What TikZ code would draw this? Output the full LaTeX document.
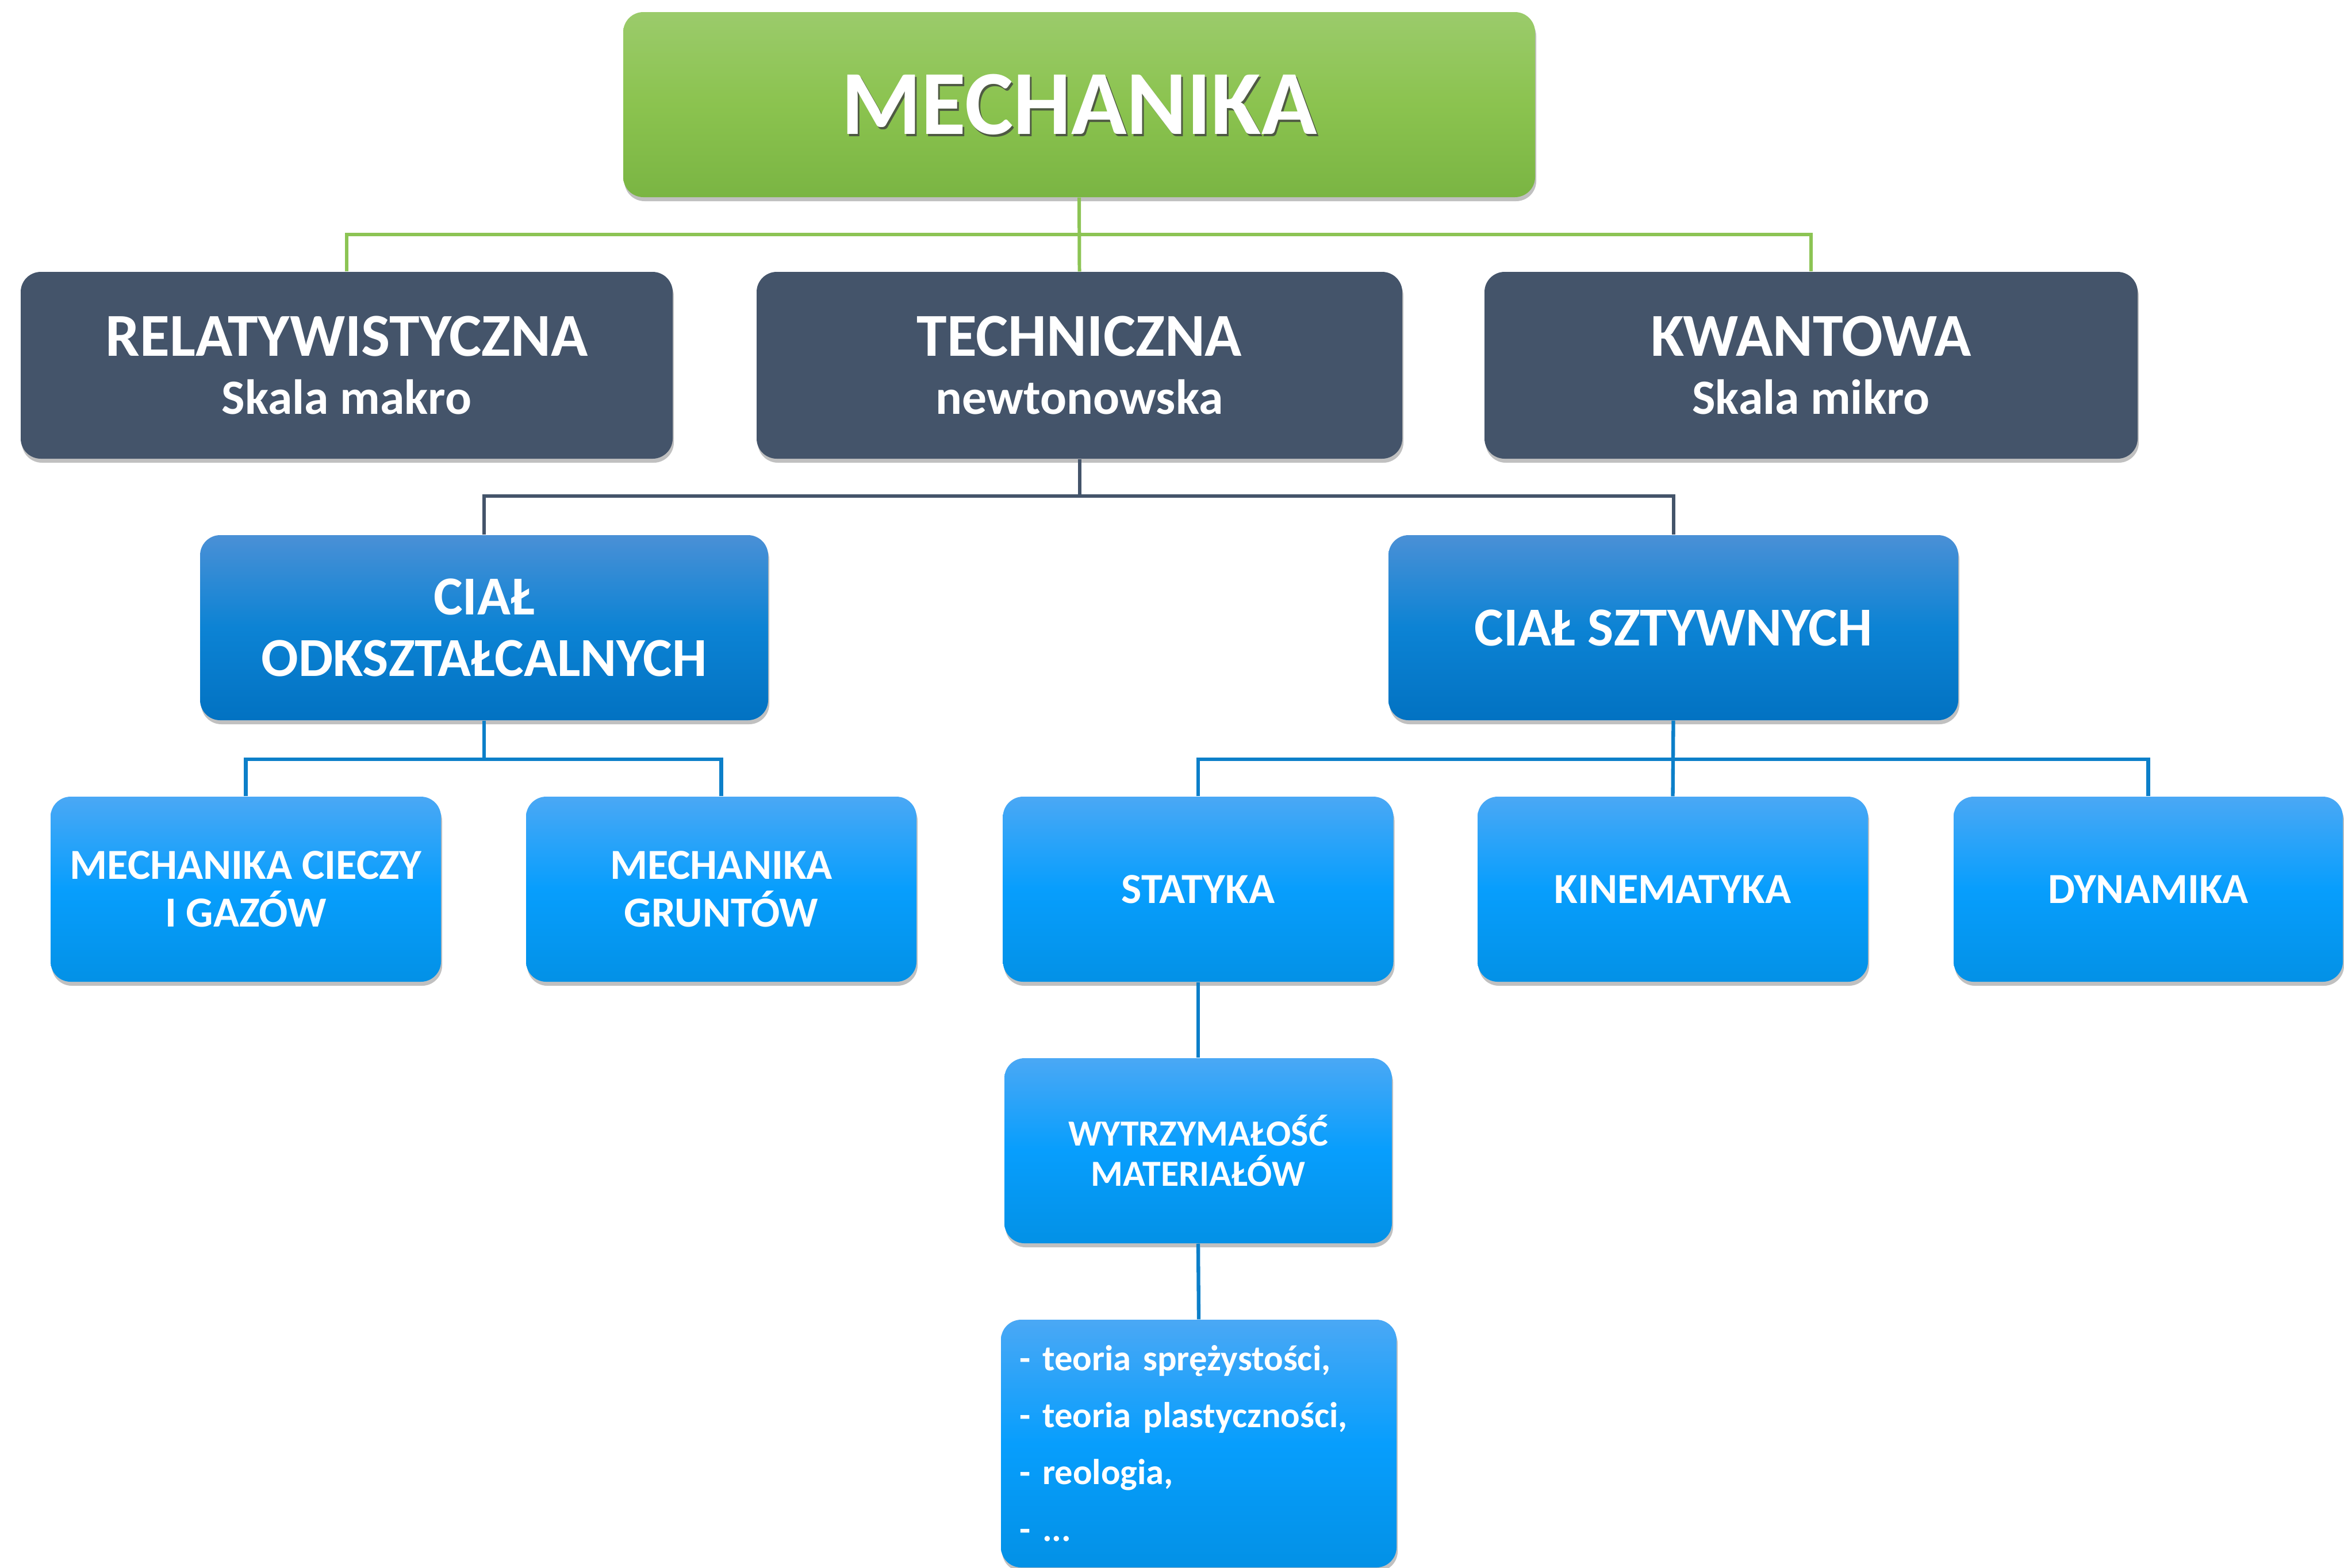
\documentclass[tikz,border=0pt]{standalone}
\usepackage{fontspec}
\setmainfont{Carlito}
\usetikzlibrary{shadows}
\definecolor{gtop}{HTML}{9BCB6B}
\definecolor{gmid}{HTML}{8BC34F}
\definecolor{gbot}{HTML}{7AB543}
\definecolor{gline}{HTML}{8CC454}
\definecolor{slate}{HTML}{44546A}
\definecolor{b2top}{HTML}{4A90D6}
\definecolor{b2mid}{HTML}{0C83D4}
\definecolor{b2bot}{HTML}{0272C2}
\definecolor{b3top}{HTML}{4AA8F5}
\definecolor{b3mid}{HTML}{079EFD}
\definecolor{b3bot}{HTML}{0391E6}
\definecolor{bline}{HTML}{0C7FC9}
\tikzset{
  box/.style={rounded corners=0.35cm, inner sep=0pt, align=center, text=white,
    drop shadow={shadow xshift=0.02cm, shadow yshift=-0.07cm, opacity=0.35, fill=black!70}},
  greenbox/.style={box, top color=gtop, bottom color=gbot, middle color=gmid,
    minimum width=15.86cm, minimum height=3.22cm},
  darkbox/.style={box, fill=slate, minimum width=11.3cm, minimum height=3.25cm,
    font=\fontsize{24.4}{28.5}\selectfont\bfseries},
  bluetwo/.style={box, top color=b2top, bottom color=b2bot, middle color=b2mid,
    minimum width=9.9cm, minimum height=3.22cm, font=\fontsize{27.2}{30.5}\selectfont\bfseries},
  bluethree/.style={box, top color=b3top, bottom color=b3bot, middle color=b3mid,
    minimum width=6.79cm, minimum height=3.22cm, font=\fontsize{21.2}{23.7}\selectfont\bfseries},
  gconn/.style={draw=gline, line width=1.7pt},
  dconn/.style={draw=slate, line width=1.7pt},
  bconn/.style={draw=bline, line width=1.8pt},
}
\newcommand{\bigline}[1]{{\fontsize{30.2}{28.5}\selectfont #1}}
\begin{document}
\begin{tikzpicture}
\useasboundingbox (0,-27.27) rectangle (40.77,0);
\fill[white] (0,-27.27) rectangle (40.77,0);
% bar coordinates
\coordinate (gbar) at (18.775,-4.08);
\coordinate (dbar) at (18.775,-8.63);
\coordinate (bbarl) at (8.42,-13.21);
\coordinate (bbarr) at (29.105,-13.21);
% nodes
\node[greenbox] (mech) at (18.77,-1.82) {};
\node[text=black!75, opacity=0.8, font=\fontsize{45.3}{52}\selectfont\bfseries] (mechsh) at (18.80,-1.86) {MECHANIKA};
\node[text=white, font=\fontsize{45.3}{52}\selectfont\bfseries] (mecht) at (18.77,-1.82) {MECHANIKA};
\node[darkbox, minimum width=11.34cm] (rel) at (6.03,-6.355)
  {\bigline{RELATYWISTYCZNA}\\Skala makro};
\node[darkbox, minimum width=11.23cm] (tech) at (18.775,-6.355)
  {\bigline{TECHNICZNA}\\newtonowska};
\node[darkbox, minimum width=11.36cm] (kwant) at (31.50,-6.355)
  {\bigline{KWANTOWA}\\Skala mikro};
\node[bluetwo, minimum width=9.88cm] (odk) at (8.42,-10.92) {CIAŁ\\ODKSZTAŁCALNYCH};
\node[bluetwo, minimum width=9.91cm] (szt) at (29.105,-10.92) {CIAŁ SZTYWNYCH};
\node[bluethree] (ciecz) at (4.275,-15.47) {MECHANIKA CIECZY\\I GAZÓW};
\node[bluethree] (grunt) at (12.545,-15.47) {MECHANIKA\\GRUNTÓW};
\node[bluethree] (stat) at (20.84,-15.47) {STATYKA};
\node[bluethree] (kin) at (29.095,-15.47) {KINEMATYKA};
\node[bluethree, minimum width=6.77cm] (dyn) at (37.365,-15.47) {DYNAMIKA};
\node[bluethree, minimum width=6.74cm, font=\fontsize{18.2}{20}\selectfont\bfseries] (wytrz) at (20.84,-20.02) {WYTRZYMAŁOŚĆ\\MATERIAŁÓW};
\node[bluethree, minimum width=6.88cm, minimum height=4.31cm, text width=6.24cm, inner xsep=0.32cm, align=left,
  font=\fontsize{17.8}{28.2}\selectfont\bfseries] (list) at (20.85,-25.115)
  {- teoria sprężystości,\\- teoria plastyczności,\\- reologia,\\- ...};
% connectors
\draw[gconn] (mech.south) -- (tech.north);
\draw[gconn] (rel.north) |- (gbar) -| (kwant.north);
\draw[dconn] (tech.south) -- (dbar);
\draw[dconn] (odk.north) |- (dbar) -| (szt.north);
\draw[bconn] (odk.south) -- (bbarl);
\draw[bconn] (ciecz.north) |- (bbarl) -| (grunt.north);
\draw[bconn] (szt.south) -- (kin.north);
\draw[bconn] (stat.north) |- (bbarr) -| (dyn.north);
\draw[bconn] (stat.south) -- (wytrz.north);
\draw[bconn] (wytrz.south) -- (list.north);
\end{tikzpicture}
\end{document}
